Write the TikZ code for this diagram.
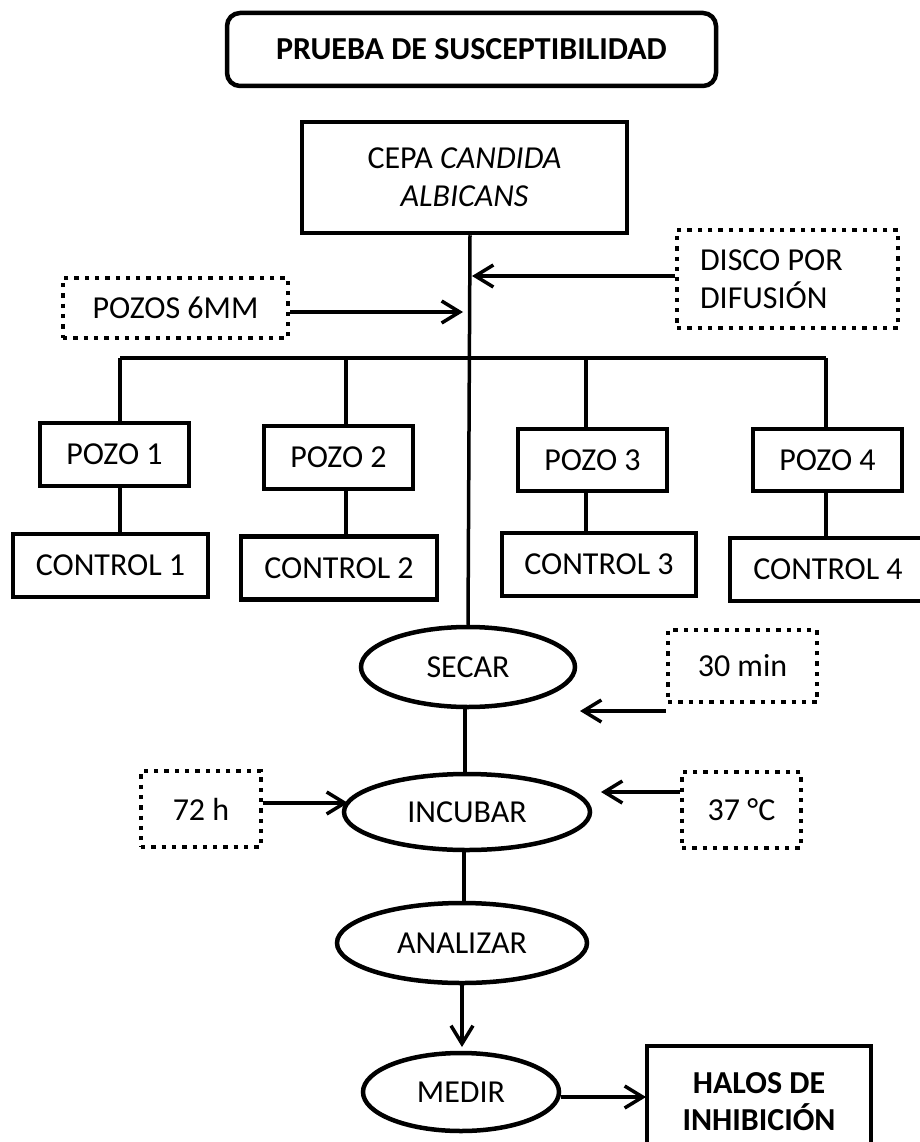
\documentclass[tikz,border=0pt]{standalone}
\usepackage{fontspec}
\setmainfont{Carlito}
\usetikzlibrary{arrows.meta,shapes.geometric}
\begin{document}
\begin{tikzpicture}[x=1pt,y=-1pt,
  every node/.style={font=\fontsize{32}{38}\selectfont, inner sep=0pt, align=center},
  solidbox/.style={draw, line width=4.5pt, rectangle},
  dotbox/.style={draw, line width=4.3pt, dash pattern=on 4.3pt off 6pt, rectangle},
  oval/.style={draw, line width=4.5pt, ellipse},
  link/.style={line width=3.5pt},
  arr/.style={line width=3.5pt, -{Straight Barb[length=18pt,width=22pt]}}
]
\useasboundingbox (0,0) rectangle (919,1142);
% title
\node[solidbox, rounded corners=13pt, minimum width=489pt, minimum height=73pt,
      font=\fontsize{32}{38}\selectfont\bfseries] (title) at (471.5,49.5) {PRUEBA DE SUSCEPTIBILIDAD};
% cepa
\node[solidbox, minimum width=325pt, minimum height=111pt] (cepa) at (464.5,177.5) {CEPA \textit{CANDIDA}\\\textit{ALBICANS}};
% side inputs
\node[dotbox, minimum width=221pt, minimum height=98pt, text width=175pt, align=flush left] (disco) at (787.5,279) {DISCO POR\\DIFUSIÓN};
\node[dotbox, minimum width=225pt, minimum height=60pt] (pozos) at (175.5,308) {POZOS 6MM};
% pozos
\node[solidbox, minimum width=149pt, minimum height=63pt] (pozo1) at (114.5,454.5) {POZO 1};
\node[solidbox, minimum width=149pt, minimum height=63pt] (pozo2) at (338.5,457.5) {POZO 2};
\node[solidbox, minimum width=149pt, minimum height=62pt] (pozo3) at (592.5,460) {POZO 3};
\node[solidbox, minimum width=149pt, minimum height=62pt] (pozo4) at (827.5,460) {POZO 4};
% controls
\node[solidbox, minimum width=195pt, minimum height=63pt] (control1) at (110.5,565.5) {CONTROL 1};
\node[solidbox, minimum width=196pt, minimum height=63pt] (control2) at (339,568) {CONTROL 2};
\node[solidbox, minimum width=194pt, minimum height=63pt] (control3) at (599,564.5) {CONTROL 3};
\node[solidbox, minimum width=196pt, minimum height=63pt] (control4) at (828,569.5) {CONTROL 4};
% process
\node[oval, minimum width=214pt, minimum height=80pt] (secar) at (468,667) {SECAR};
\node[dotbox, minimum width=149pt, minimum height=72pt] (min30) at (742.5,666) {30 min};
\node[oval, minimum width=246pt, minimum height=76pt] (incubar) at (467,812) {INCUBAR};
\node[dotbox, minimum width=120pt, minimum height=76pt] (h72) at (201,809) {72 h};
\node[dotbox, minimum width=119pt, minimum height=76pt] (c37) at (741.5,810) {37 °C};
\node[oval, minimum width=250pt, minimum height=80pt] (analizar) at (462,943) {ANALIZAR};
\node[oval, minimum width=196pt, minimum height=78pt] (medir) at (461,1092) {MEDIR};
\node[solidbox, minimum width=224pt, minimum height=112pt,
      font=\fontsize{32}{37}\selectfont\bfseries] (halos) at (759,1102) {HALOS DE\\INHIBICIÓN};
% main line
\coordinate (top) at (470,233);
\draw[link] (cepa.south -| top) -- (secar.north);
\coordinate (d1) at (472,276);
\draw[arr] (disco.west |- d1) -- (d1);
\coordinate (p1) at (463,312);
\draw[arr] (pozos.east |- p1) -- (p1);
% bar
\coordinate (b1) at (120,358);
\coordinate (b2) at (346,358);
\coordinate (b3) at (586,358);
\coordinate (b4) at (826,358);
\draw[line width=4.5pt] (b1) -- (b4);
\foreach \i in {1,2,3,4}{
  \draw[link] (b\i) -- (b\i |- pozo\i.north);
  \draw[link] (b\i |- pozo\i.south) -- (b\i |- control\i.north);
}
% process links
\coordinate (l1) at (465,700);
\coordinate (l2) at (464,900);
\draw[link] (secar.south -| l1) -- (incubar.north -| l1);
\draw[link] (incubar.south -| l2) -- (analizar.north -| l2);
\coordinate (s1) at (580,711);
\draw[arr] (min30.south west |- s1) -- (s1);
\coordinate (i1) at (348,803);
\draw[arr] (h72.east |- i1) -- (i1);
\coordinate (c1) at (601,792);
\draw[arr] (c37.west |- c1) -- (c1);
\coordinate (m1) at (462,1047);
\draw[arr] (analizar.south) -- (m1);
\coordinate (h1) at (646,1097);
\draw[arr] (medir.east |- h1) -- (h1);
\end{tikzpicture}
\end{document}
